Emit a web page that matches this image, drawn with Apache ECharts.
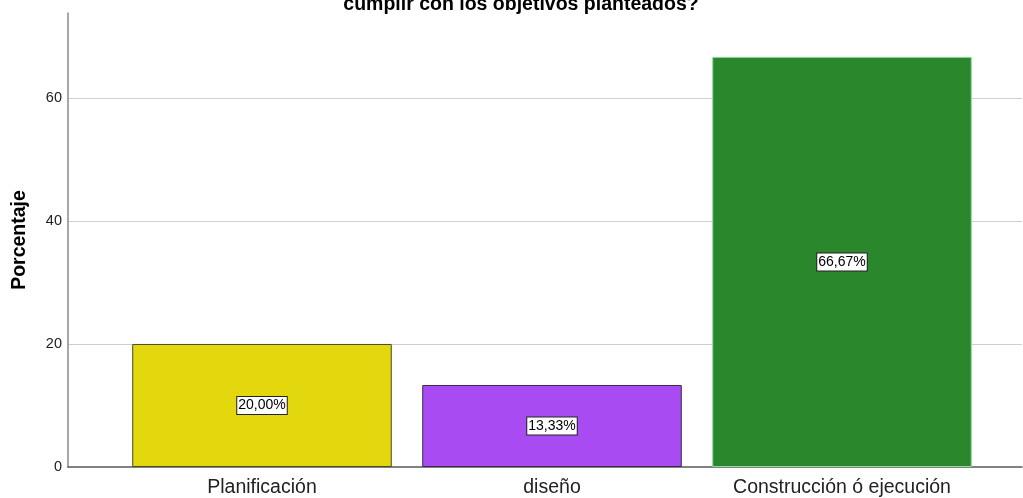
<!DOCTYPE html>
<html>
<head>
<meta charset="utf-8">
<script src="https://cdn.jsdelivr.net/npm/echarts@6/dist/echarts.min.js"></script>
<style>html,body{margin:0;padding:0;background:#fff}#c{width:1023px;height:498px}</style>
</head>
<body>
<div id="c"></div>
<script>
const categories = ['Planificación', 'diseño', 'Construcción ó ejecución'];
const values = [20.00, 13.33, 66.67];
const labels = ['20,00%', '13,33%', '66,67%'];
const yTicks = [0, 20, 40, 60];
const titleText = 'cumplir con los objetivos planteados?';
const yName = 'Porcentaje';

const colors = ['#e3d70e', '#a94bf2', '#2b872b'];
const borders = ['#4a4a2a', '#3a2a4a', '#8fdca0'];

const chart = echarts.init(document.getElementById('c'), null, {renderer: 'canvas'});
const FONT = 'Liberation Sans, Arial, sans-serif';
const yMax = 73.8;

chart.setOption({
  animation: false,
  backgroundColor: '#ffffff',
  title: {
    text: titleText,
    left: 516, top: -10,
    textAlign: 'center',
    textStyle: {fontFamily: FONT, fontWeight: 'bold', fontSize: 19.5, color: '#000'}
  },
  grid: [
    {left: 68, right: 1, top: 13, bottom: 31, outerBoundsMode: 'none', containLabel: false},
    {left: 117, right: 36, top: 13, bottom: 31, outerBoundsMode: 'none', containLabel: false}
  ],
  xAxis: [
    {gridIndex: 0, type: 'value', min: 0, max: 1,
     axisLine: {show: true, onZero: false, lineStyle: {color: '#5a5a5a', width: 1.5}},
     axisTick: {show: false}, axisLabel: {show: false}, splitLine: {show: false}},
    {gridIndex: 1, type: 'category', data: categories,
     axisLine: {show: false}, axisTick: {show: false},
     axisLabel: {fontFamily: FONT, fontSize: 19.5, color: '#222', margin: 11}}
  ],
  yAxis: [
    {gridIndex: 0, type: 'value', min: 0, max: yMax, interval: 20,
     name: yName, nameLocation: 'middle', nameGap: 38,
     nameTextStyle: {fontFamily: FONT, fontWeight: 'bold', fontSize: 19.5, color: '#000'},
     axisLine: {show: true, lineStyle: {color: '#8a8a8a', width: 1.5}},
     axisTick: {show: false},
     axisLabel: {fontFamily: FONT, fontSize: 14.5, color: '#222', margin: 6, showMaxLabel: false,
       formatter: v => yTicks.includes(v) ? String(v) : ''},
     splitLine: {show: true, showMaxLine: false, showMinLine: false, lineStyle: {color: '#cfcfcf', width: 1.2}}},
    {gridIndex: 1, type: 'value', min: 0, max: yMax, interval: 20, show: false, splitLine: {show: false}}
  ],
  series: [{
    type: 'bar',
    xAxisIndex: 1, yAxisIndex: 1,
    barCategoryGap: '10.5%',
    data: values.map((v, i) => ({
      value: v,
      itemStyle: {color: colors[i], borderColor: borders[i], borderWidth: 1}
    })),
    label: {
      show: true, position: 'inside',
      formatter: p => labels[p.dataIndex],
      fontFamily: FONT, fontSize: 14, color: '#000',
      backgroundColor: '#fff', borderColor: '#222', borderWidth: 1,
      padding: [2, 1, 1, 1]
    }
  }]
});
</script>
</body>
</html>
